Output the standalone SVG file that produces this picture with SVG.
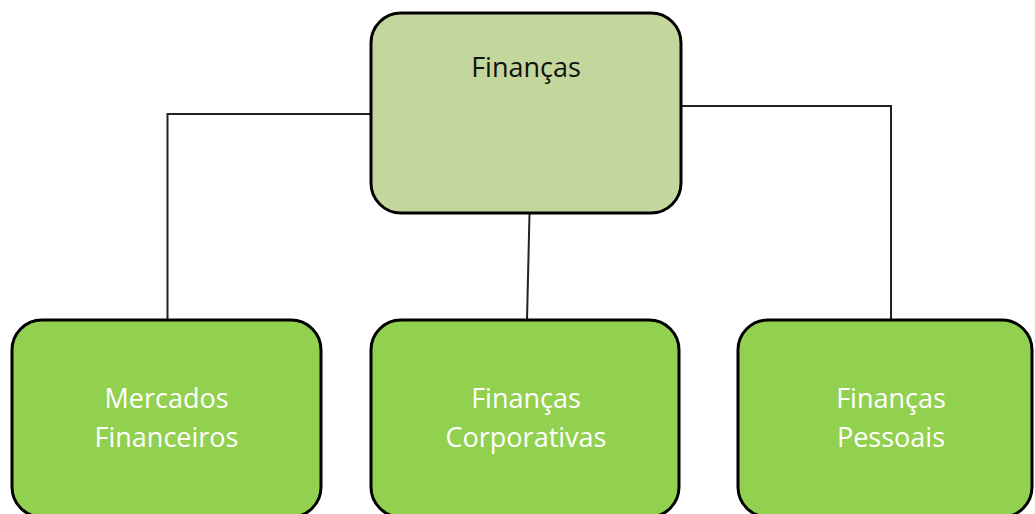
<svg xmlns="http://www.w3.org/2000/svg" width="1035" height="514" viewBox="0 0 1035 514">
<style>
.node{stroke:#000;stroke-width:3}
.top{fill:#C3D69B}
.sub{fill:#92D050}
.conn{fill:none;stroke:#222;stroke-width:2}
text{font-family:"Open Sans","Noto Sans",sans-serif;font-size:27px;text-anchor:middle}
.dark{fill:#111}
.light{fill:#FFFFFF}
</style>
<rect width="1035" height="514" fill="#fff"/>
<g id="connectors">
<polyline class="conn" points="371,114 167.5,114 167.5,320"/>
<polyline class="conn" points="681,106 891,106 891,320"/>
<line class="conn" x1="529.5" y1="214" x2="527" y2="320"/>
</g>
<g id="node-financas">
<rect class="node top" x="371" y="13" width="310" height="200" rx="30"/>
<text class="dark" x="526" y="77">Finanças</text>
</g>
<g id="node-mercados">
<rect class="node sub" x="12" y="320" width="309" height="197" rx="30"/>
<text class="light" x="166.5" y="408">Mercados</text>
<text class="light" x="166.5" y="447">Financeiros</text>
</g>
<g id="node-corporativas">
<rect class="node sub" x="371" y="320" width="308" height="197" rx="30"/>
<text class="light" x="526" y="408">Finanças</text>
<text class="light" x="526" y="447">Corporativas</text>
</g>
<g id="node-pessoais">
<rect class="node sub" x="738" y="320" width="294" height="197" rx="30"/>
<text class="light" x="891" y="408">Finanças</text>
<text class="light" x="891" y="447">Pessoais</text>
</g>
</svg>
